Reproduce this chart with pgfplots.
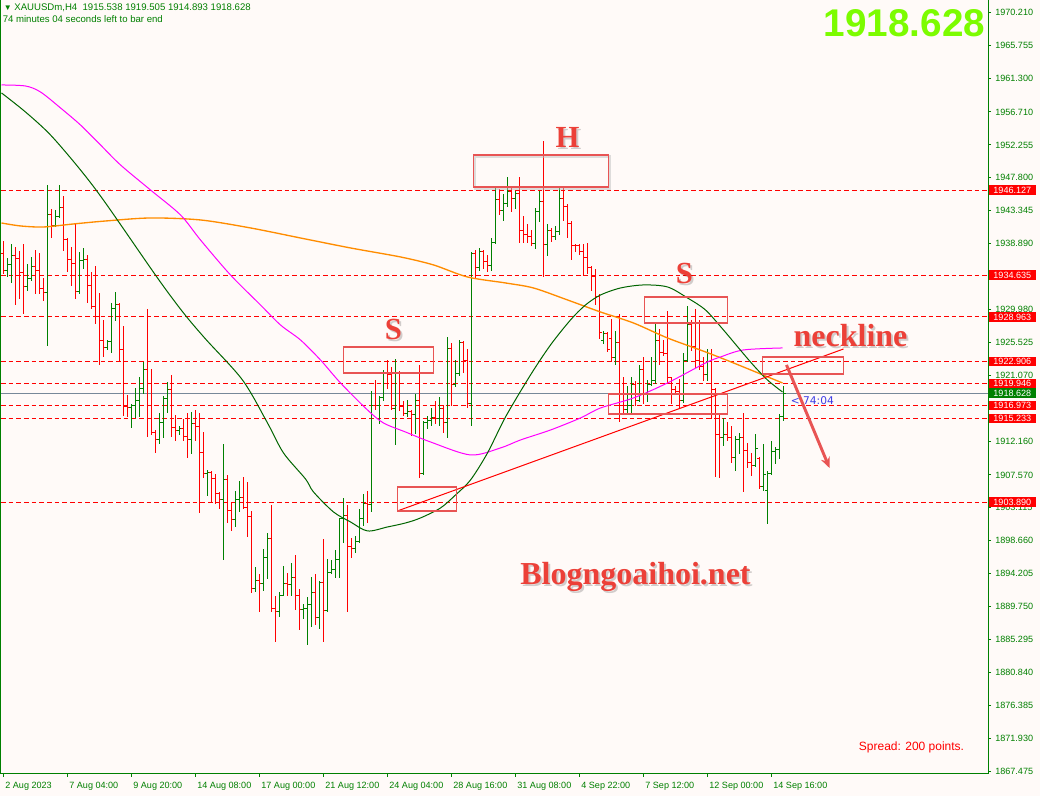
\documentclass[border=0pt]{standalone}
\usepackage{fontspec}
\setmainfont{Liberation Sans}
\newfontfamily\tnr{Liberation Serif}
\newfontfamily\dvs{DejaVu Sans}
\usepackage{pgfplots}
\pgfplotsset{compat=1.18}
\usepackage{pgfplotstable}
\usetikzlibrary{arrows.meta}

\definecolor{bg}{RGB}{255,250,248}
\definecolor{bull}{RGB}{0,128,0}
\definecolor{bear}{RGB}{255,0,0}
\definecolor{magma}{RGB}{255,0,255}
\definecolor{slowma}{RGB}{255,140,0}
\definecolor{midma}{RGB}{0,100,0}
\definecolor{annot}{RGB}{236,64,56}
\definecolor{boxred}{RGB}{232,84,84}
\definecolor{lawn}{RGB}{124,252,0}
\definecolor{bidline}{RGB}{119,136,153}
\definecolor{timer}{RGB}{60,60,230}
\pagecolor{bg}

\newcommand\mtfont{\fontsize{6.8}{8}\selectfont}
\newcommand\shadowtext[4]{%
  \node[anchor=base, text=black, opacity=0.18, font=#3] at ([shift={(1.5pt,-1.5pt)}]axis cs:#1,#2) {#4};
  \node[anchor=base, text=annot, font=#3] at (axis cs:#1,#2) {#4};}
\newcommand\pricetag[3]{%
  \node[anchor=west, fill=#2, text=white, font=\mtfont, inner sep=0pt, minimum width=35.3pt, minimum height=7.2pt] at ([xshift=0.4pt]axis cs:246.125,#1) {#3};}

% XAUUSD H4 bars: index, open, high, low, close
\pgfplotstableread{
k O H L C
0 1937.6 1939.2 1934.9 1935.3
1 1935.3 1936.9 1934.4 1936.1
2 1936.1 1938.8 1933.7 1937.3
3 1937.3 1938.3 1930.6 1936.9
4 1936.9 1937.8 1931.5 1935.0
5 1935.0 1938.7 1929.4 1933.1
6 1933.1 1936.0 1932.5 1934.2
7 1934.2 1937.0 1933.9 1935.8
8 1935.8 1937.9 1932.2 1935.3
9 1935.3 1937.5 1932.1 1932.8
10 1932.8 1934.2 1931.2 1932.3
11 1932.3 1946.8 1925.1 1942.8
12 1942.8 1943.5 1939.7 1941.3
13 1941.3 1943.3 1941.2 1942.5
14 1942.5 1946.7 1942.4 1943.8
15 1943.8 1945.2 1938.0 1939.4
16 1939.4 1939.5 1935.2 1936.8
17 1936.8 1938.3 1933.3 1936.2
18 1936.2 1941.6 1931.5 1932.4
19 1932.4 1937.7 1932.1 1936.6
20 1936.6 1938.2 1935.5 1936.8
21 1936.8 1937.3 1931.0 1933.2
22 1933.2 1934.9 1930.1 1930.4
23 1930.4 1935.8 1928.1 1929.0
24 1929.0 1932.1 1922.6 1925.8
25 1925.8 1928.5 1923.6 1924.8
26 1924.8 1925.7 1924.6 1925.6
27 1925.6 1930.8 1924.1 1930.1
28 1930.1 1932.3 1928.5 1930.6
29 1930.6 1930.8 1923.0 1924.6
30 1924.6 1927.6 1915.6 1916.8
31 1916.8 1918.3 1915.5 1916.7
32 1916.7 1917.1 1914.0 1916.9
33 1916.9 1919.2 1915.3 1917.7
34 1917.7 1920.7 1915.5 1919.3
35 1919.3 1922.7 1918.6 1921.9
36 1921.9 1929.9 1912.8 1920.0
37 1920.0 1921.8 1913.0 1913.3
38 1913.3 1913.6 1910.6 1912.4
39 1912.4 1915.9 1911.9 1914.6
40 1914.6 1918.1 1912.6 1917.9
41 1917.9 1920.0 1916.0 1919.1
42 1919.1 1921.0 1912.8 1914.0
43 1914.0 1915.6 1912.2 1913.6
44 1913.6 1914.1 1913.0 1913.9
45 1913.9 1915.0 1912.3 1912.8
46 1912.8 1915.9 1910.0 1912.3
47 1912.3 1916.0 1910.5 1914.5
48 1914.5 1916.2 1912.3 1914.1
49 1914.1 1915.9 1902.5 1910.6
50 1910.6 1913.3 1907.3 1907.7
51 1907.7 1908.1 1904.8 1907.9
52 1907.9 1908.0 1904.0 1907.1
53 1907.1 1907.6 1903.7 1905.0
54 1905.0 1905.2 1903.1 1904.2
55 1904.2 1911.6 1896.2 1906.9
56 1906.9 1907.4 1901.2 1902.7
57 1902.7 1903.7 1900.1 1901.5
58 1901.5 1905.3 1900.6 1904.2
59 1904.2 1906.7 1902.7 1904.5
60 1904.5 1907.2 1903.0 1903.2
61 1903.2 1906.5 1899.3 1902.0
62 1902.0 1902.6 1891.7 1892.2
63 1892.2 1895.0 1891.8 1893.3
64 1893.3 1894.0 1889.1 1892.8
65 1892.8 1897.5 1891.9 1896.4
66 1896.4 1899.6 1893.6 1898.9
67 1898.9 1903.4 1889.1 1889.5
68 1889.5 1891.1 1885.0 1889.1
69 1889.1 1891.6 1888.4 1891.3
70 1891.3 1895.1 1891.2 1892.8
71 1892.8 1894.2 1891.3 1892.7
72 1892.7 1895.5 1891.3 1893.7
73 1893.7 1896.6 1889.3 1891.3
74 1891.3 1892.0 1886.7 1889.3
75 1889.3 1890.0 1888.2 1889.5
76 1889.5 1891.0 1884.6 1890.0
77 1890.0 1893.6 1887.0 1891.7
78 1891.7 1894.0 1887.3 1888.2
79 1888.2 1893.1 1886.8 1893.0
80 1893.0 1898.8 1885.1 1889.2
81 1889.2 1896.1 1889.1 1894.3
82 1894.3 1896.0 1894.2 1894.7
83 1894.7 1897.3 1893.7 1896.1
84 1896.1 1901.7 1893.7 1901.6
85 1901.6 1904.4 1898.5 1902.1
86 1902.1 1903.4 1889.1 1897.9
87 1897.9 1898.9 1896.4 1897.6
88 1897.6 1899.2 1897.1 1898.5
89 1898.5 1902.8 1898.4 1901.6
90 1901.6 1904.9 1900.8 1903.7
91 1903.7 1905.3 1901.2 1903.5
92 1903.5 1918.9 1902.6 1917.0
93 1917.0 1920.3 1916.4 1916.9
94 1916.9 1918.1 1914.6 1918.0
95 1918.0 1921.7 1917.7 1921.5
96 1921.5 1923.0 1919.3 1921.1
97 1921.1 1922.1 1916.4 1916.6
98 1916.6 1923.2 1911.7 1921.3
99 1921.3 1921.5 1916.3 1916.8
100 1916.8 1917.5 1915.6 1915.9
101 1915.9 1917.6 1915.5 1916.1
102 1916.1 1916.2 1912.9 1915.7
103 1915.7 1918.4 1913.2 1917.7
104 1917.7 1922.3 1907.2 1907.7
105 1907.7 1914.8 1907.6 1914.6
106 1914.6 1915.5 1913.9 1915.0
107 1915.0 1916.6 1914.3 1915.4
108 1915.4 1917.5 1914.6 1915.2
109 1915.2 1918.0 1914.3 1916.5
110 1916.5 1916.9 1913.4 1914.6
111 1914.6 1926.2 1912.7 1924.7
112 1924.7 1925.3 1917.0 1919.8
113 1919.8 1923.1 1919.5 1921.3
114 1921.3 1925.8 1921.0 1925.5
115 1925.5 1925.6 1921.5 1923.1
116 1923.1 1924.5 1916.7 1917.3
117 1917.3 1937.6 1914.3 1937.5
118 1937.5 1938.0 1934.2 1935.6
119 1935.6 1938.2 1935.3 1937.8
120 1937.8 1937.9 1935.5 1936.4
121 1936.4 1937.2 1935.1 1935.9
122 1935.9 1939.6 1935.3 1939.0
123 1939.0 1946.4 1938.9 1944.8
124 1944.8 1946.2 1942.8 1943.4
125 1943.4 1945.5 1942.0 1944.3
126 1944.3 1947.8 1943.9 1945.9
127 1945.9 1946.3 1943.2 1945.0
128 1945.0 1945.9 1943.6 1945.7
129 1945.7 1947.8 1939.0 1940.6
130 1940.6 1942.5 1939.0 1940.1
131 1940.1 1941.4 1939.0 1939.8
132 1939.8 1940.7 1938.6 1938.9
133 1938.9 1943.6 1938.3 1943.2
134 1943.2 1945.9 1941.9 1944.6
135 1944.6 1952.7 1934.4 1938.8
136 1938.8 1941.4 1937.3 1940.7
137 1940.7 1940.9 1939.2 1939.8
138 1939.8 1941.2 1939.4 1940.5
139 1940.5 1946.3 1940.1 1945.0
140 1945.0 1946.3 1942.1 1943.9
141 1943.9 1944.1 1939.8 1941.6
142 1941.6 1941.9 1936.8 1938.7
143 1938.7 1938.8 1937.9 1938.6
144 1938.6 1938.7 1937.5 1937.8
145 1937.8 1938.7 1934.6 1937.0
146 1937.0 1938.9 1934.8 1935.6
147 1935.6 1935.8 1932.6 1934.4
148 1934.4 1935.3 1930.6 1931.7
149 1931.7 1932.0 1926.1 1926.8
150 1925.8 1927.0 1925.4 1926.7
151 1926.7 1926.8 1924.3 1924.5
152 1926.0 1928.6 1922.9 1923.5
153 1923.5 1927.0 1922.5 1925.5
154 1925.5 1929.2 1914.8 1917.0
155 1917.0 1920.7 1915.9 1916.4
156 1916.4 1919.5 1916.0 1917.0
157 1917.0 1920.7 1916.1 1919.8
158 1919.8 1920.2 1917.0 1917.7
159 1917.7 1922.3 1917.5 1921.8
160 1921.8 1923.5 1917.3 1918.4
161 1918.4 1920.3 1917.5 1919.8
162 1919.8 1923.4 1919.7 1920.3
163 1920.3 1928.1 1920.0 1925.8
164 1925.8 1927.2 1922.5 1924.2
165 1924.2 1925.8 1923.8 1924.0
166 1924.0 1929.7 1920.0 1920.7
167 1920.7 1920.8 1917.3 1919.1
168 1919.1 1919.5 1918.6 1918.8
169 1918.8 1920.4 1916.6 1917.7
170 1917.7 1924.0 1917.4 1923.1
171 1923.1 1930.4 1922.9 1928.0
172 1928.0 1928.5 1924.5 1925.0
173 1925.0 1930.0 1922.2 1923.0
174 1923.0 1928.5 1921.8 1922.3
175 1922.3 1923.4 1920.4 1921.1
176 1921.1 1924.5 1920.4 1922.9
177 1922.9 1924.5 1915.2 1919.1
178 1919.1 1919.2 1907.4 1913.0
179 1913.0 1915.7 1907.3 1912.6
180 1912.6 1915.2 1911.6 1913.0
181 1913.0 1914.6 1912.3 1912.6
182 1912.6 1914.1 1909.3 1909.9
183 1909.9 1912.8 1908.2 1912.3
184 1912.3 1913.1 1910.5 1912.7
185 1912.7 1915.8 1905.3 1910.9
186 1910.9 1911.8 1908.6 1909.3
187 1909.3 1910.5 1907.5 1908.9
188 1908.9 1913.0 1908.7 1911.2
189 1909.8 1909.9 1905.8 1906.0
190 1906.0 1911.6 1905.5 1907.6
191 1905.5 1908.0 1901.0 1907.8
192 1907.8 1912.1 1907.7 1910.8
193 1910.8 1911.2 1909.2 1911.0
194 1911.0 1915.7 1909.8 1915.5
195 1915.538 1919.505 1914.893 1918.628
}\ohlc

\begin{document}
\begin{tikzpicture}
\begin{axis}[
  set layers, clip=false,
  at={(0,0)}, anchor=south west,
  scale only axis, width=740.25pt, height=580.5pt,
  xmin=-0.625, xmax=246.125, ymin=1867.07, ymax=1971.876,
  axis x line*=bottom, axis y line*=right,
  axis line style={bull, line width=0.75pt},
  tick style={bull, line width=0.75pt},
  tick align=outside, major tick length=2.25pt,
  xtick={0,16,...,192},
  xticklabels={2 Aug 2023,7 Aug 04:00,9 Aug 20:00,14 Aug 08:00,17 Aug 00:00,21 Aug 12:00,24 Aug 04:00,28 Aug 16:00,31 Aug 08:00,4 Sep 22:00,7 Sep 12:00,12 Sep 00:00,14 Sep 16:00},
  xticklabel style={font=\mtfont, text=bull, anchor=north west, inner sep=0pt, xshift=1.2pt, yshift=-3.5pt},
  ytick={1970.210,1965.755,1961.300,1956.710,1952.255,1947.800,1943.345,1938.890,1934.435,1929.980,1925.525,1921.070,1916.615,1912.160,1907.570,1903.115,1898.660,1894.205,1889.750,1885.295,1880.840,1876.385,1871.930,1867.475},
  yticklabels={1970.210,1965.755,1961.300,1956.710,1952.255,1947.800,1943.345,1938.890,,1929.980,1925.525,1921.070,,1912.160,1907.570,1903.115,1898.660,1894.205,1889.750,1885.295,1880.840,1876.385,1871.930,1867.475},
  yticklabel style={font=\mtfont, text=bull, anchor=west, inner sep=0pt, xshift=3pt},
]
% left border of the chart window
\draw[bull, line width=0.75pt] (rel axis cs:0,0) -- (rel axis cs:0,1);

% horizontal levels
\pgfplotsinvokeforeach{1946.127,1934.635,1928.963,1922.906,1919.946,1916.973,1915.233,1903.890}{
  \addplot[bear, line width=0.75pt, dash pattern=on 3.5pt off 2.25pt, forget plot] coordinates {(-0.625,#1) (246.125,#1)};
}
% bid line
\addplot[bidline, line width=0.75pt, forget plot] coordinates {(-0.625,1918.628) (246.125,1918.628)};

% OHLC bars: high-low range, then open tick (left) and close tick (right)
\pgfplotsinvokeforeach{0,...,195}{%
  \pgfplotstablegetelem{#1}{O}\of\ohlc\let\vO\pgfplotsretval
  \pgfplotstablegetelem{#1}{H}\of\ohlc\let\vH\pgfplotsretval
  \pgfplotstablegetelem{#1}{L}\of\ohlc\let\vL\pgfplotsretval
  \pgfplotstablegetelem{#1}{C}\of\ohlc\let\vC\pgfplotsretval
  \pgfmathsetmacro\xa{#1-0.6}%
  \pgfmathsetmacro\xb{#1+0.6}%
  \ifdim\vC pt<\vO pt\def\barcol{bear}\else\def\barcol{bull}\fi
  \edef\ohlcbar{%
    \noexpand\addplot[draw=\barcol, color=\barcol, line width=1pt, line cap=rect, forget plot]
      coordinates {(#1,\vL) (#1,\vH)};
    \noexpand\addplot[draw=\barcol, color=\barcol, line width=0.75pt, forget plot]
      coordinates {(\xa,\vO) (#1,\vO)};
    \noexpand\addplot[draw=\barcol, color=\barcol, line width=0.75pt, forget plot]
      coordinates {(#1,\vC) (\xb,\vC)};}%
  \ohlcbar
}

% moving averages
\addplot[slowma, line width=1pt, smooth] coordinates {
(-0.5,1941.68) (4.25,1941.28) (10,1941.14) (17.5,1941.55) (25.5,1941.95) (36.75,1942.36)
(49.25,1942.09) (61.75,1941.01) (74.25,1939.65) (86.75,1938.30) (99.25,1937.08) (107.5,1936.00)
(116,1934.37) (125.5,1933.56) (132.5,1932.88) (141,1931.26) (149.25,1929.63) (157.5,1928.14)
(166,1926.11) (175.5,1924.22) (182.5,1922.73) (194.75,1920.02)};
\addplot[magma, line width=0.75pt, smooth] coordinates {
(-0.5,1960.37) (5.5,1960.23) (9.25,1959.42) (14.25,1957.26) (19.25,1954.95) (24.25,1952.25)
(29.25,1949.54) (36.75,1946.15) (44.25,1942.77) (49.25,1939.38) (56.75,1934.64) (64.25,1930.58)
(69.25,1927.87) (74.25,1925.84) (79.25,1923.13) (84.25,1920.02) (91,1916.36) (95,1914.60)
(100.5,1913.38) (106.75,1912.03) (116.75,1910.27) (124.25,1911.22) (129.25,1912.30)
(136.75,1913.65) (144.25,1915.28) (149.25,1916.63) (157.5,1917.99) (166,1920.02)
(175.5,1922.73) (179.25,1923.54) (185,1924.49) (194.75,1924.76)};
\addplot[midma, line width=0.75pt, smooth] coordinates {
(-0.5,1959.29) (5.5,1956.71) (11.75,1953.60) (19.25,1948.86) (25.5,1944.39)
(38.5,1934.24) (45,1929.50) (50.5,1925.98) (59.75,1920.42) (66,1914.60) (70,1910.54)
(75.5,1907.02) (77.5,1905.26) (82.5,1902.55) (86.75,1901.20) (91,1899.98) (96,1900.52)
(100.5,1901.06) (104.25,1901.74) (109.25,1903.09) (113,1904.85) (116.75,1906.88) (121,1910.54)
(125.5,1915.41) (131.75,1921.10) (136.75,1925.16) (141.75,1928.55) (145.5,1930.58)
(149.25,1931.93) (154.25,1932.88) (160,1933.29) (166,1933.02) (171,1931.53) (175.5,1929.90)
(180,1927.19) (186.75,1922.86) (191,1920.42) (194.75,1918.80)};

% neckline
\addplot[bear, line width=0.75pt, forget plot] coordinates {(98.5,1902.69) (210,1924.62)};
% projected move
\addplot[boxred, line width=2.2pt, forget plot, -{Stealth[length=8pt,width=7pt]}] coordinates {(195.75,1922.46) (206.5,1908.51)};

% pattern boxes
\draw[black!25, opacity=0.5, line width=2pt] ([shift={(1.2pt,-1.2pt)}]axis cs:117.5,1950.89) rectangle ([shift={(1.2pt,-1.2pt)}]axis cs:151.25,1946.56);
\draw[boxred, line width=1.1pt] (axis cs:117.5,1950.89) rectangle (axis cs:151.25,1946.56);
\draw[boxred, line width=1.1pt] (axis cs:85,1924.89) rectangle (axis cs:107.5,1921.37);
\draw[boxred, line width=1.1pt] (axis cs:160.25,1931.66) rectangle (axis cs:181,1928.14);
\draw[boxred, line width=1.1pt] (axis cs:98.5,1905.94) rectangle (axis cs:113.25,1902.69);
\draw[boxred, line width=1.1pt] (axis cs:151.25,1918.53) rectangle (axis cs:181,1915.82);
\draw[boxred, line width=1.1pt] (axis cs:189.75,1923.54) rectangle (axis cs:210,1921.24);

% pattern letters and captions
\shadowtext{141}{1951.84}{\tnr\bfseries\fontsize{23}{24}\selectfont}{H}
\shadowtext{97.5}{1925.97}{\tnr\bfseries\fontsize{23}{24}\selectfont}{S}
\shadowtext{170.25}{1933.42}{\tnr\bfseries\fontsize{23}{24}\selectfont}{S}
\shadowtext{211.75}{1924.89}{\tnr\bfseries\fontsize{24}{25}\selectfont}{neckline}
\shadowtext{158}{1892.67}{\tnr\bfseries\fontsize{24}{25}\selectfont}{Blogngoaihoi.net}

\node[anchor=base, text=bear, font=\fontsize{9}{10}\selectfont] at (axis cs:227,1870.19) {Spread: 200 points.};
\node[anchor=base west, text=timer, font=\dvs\fontsize{8}{9}\selectfont, inner sep=0pt] at (axis cs:196.75,1917.04) {< 74:04};
\node[anchor=base east, text=lawn, font=\bfseries\fontsize{29}{30}\selectfont, inner sep=0pt] at (axis cs:245.5,1966.87) {1918.628};

% symbol header
\node[anchor=base west, text=bull, font=\fontsize{7.2}{8}\selectfont, inner sep=0pt] at (axis cs:0,1970.52) {{\fontsize{6}{6}\selectfont ▼}\ XAUUSDm,H4\ \ 1915.538 1919.505 1914.893 1918.628};
\node[anchor=base west, text=bull, font=\fontsize{7.2}{8}\selectfont, inner sep=0pt] at (axis cs:-0.25,1968.77) {74 minutes 04 seconds left to bar end};

% price tags on the scale
\pricetag{1946.127}{bear}{1946.127}
\pricetag{1934.635}{bear}{1934.635}
\pricetag{1928.963}{bear}{1928.963}
\pricetag{1922.906}{bear}{1922.906}
\pricetag{1919.946}{bear}{1919.946}
\pricetag{1916.973}{bear}{1916.973}
\pricetag{1915.233}{bear}{1915.233}
\pricetag{1903.890}{bear}{1903.890}
\pricetag{1918.628}{bull}{1918.628}
\end{axis}
\pgfresetboundingbox
\path[use as bounding box] (-0.75pt,-16.5pt) rectangle (779.25pt,580.5pt);
\end{tikzpicture}
\end{document}
